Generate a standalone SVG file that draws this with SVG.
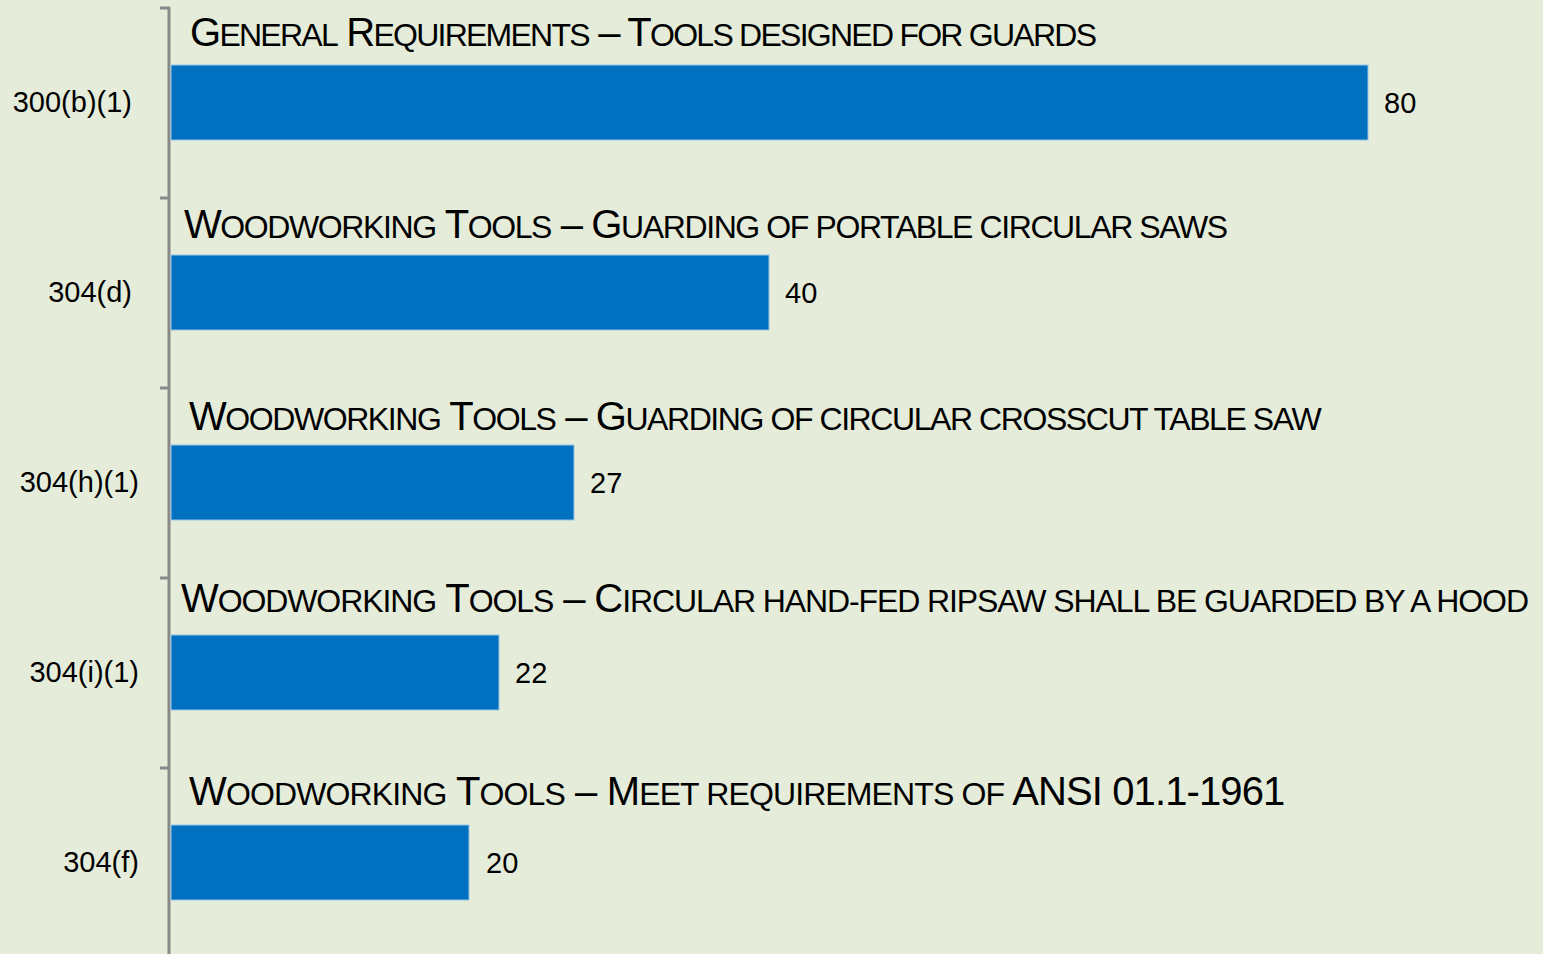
<svg xmlns="http://www.w3.org/2000/svg" width="1543" height="954" viewBox="0 0 1543 954">
<style>
.bg{fill:#E5ECDA}
.bar{fill:#0070C0;stroke:#9CC3E5;stroke-width:1}
.t{font-family:"Liberation Sans",Arial,sans-serif;fill:#000}
.ttl{font-size:40px}
.s{font-size:32px}
.lbl{font-size:29px}
.cat{text-anchor:end}
.ax{stroke:#898989;stroke-width:3;fill:none}
</style>
<rect class="bg" x="0" y="0" width="1543" height="954"/>
<g id="axis">
<path class="ax" d="M169,7 V954 M160,8 H170 M160,198 H170 M160,388 H170 M160,578 H170 M160,768 H170"/>
</g>
<g id="cat1">
<rect class="bar" x="171" y="65" width="1197" height="75"/>
<text class="t ttl" x="190" y="46" letter-spacing="-1.75">G<tspan class="s">ENERAL</tspan> R<tspan class="s">EQUIREMENTS</tspan> – T<tspan class="s">OOLS DESIGNED FOR GUARDS</tspan></text>
<text class="t lbl cat" x="132" y="112">300(b)(1)</text>
<text class="t lbl" x="1384" y="113">80</text>
</g>
<g id="cat2">
<rect class="bar" x="171" y="255" width="598" height="75"/>
<text class="t ttl" x="184" y="238" letter-spacing="-1.4">W<tspan class="s">OODWORKING</tspan> T<tspan class="s">OOLS</tspan> – G<tspan class="s">UARDING OF PORTABLE CIRCULAR SAWS</tspan></text>
<text class="t lbl cat" x="132" y="302">304(d)</text>
<text class="t lbl" x="785" y="303">40</text>
</g>
<g id="cat3">
<rect class="bar" x="171" y="445" width="403" height="75"/>
<text class="t ttl" x="189" y="430" letter-spacing="-1.43">W<tspan class="s">OODWORKING</tspan> T<tspan class="s">OOLS</tspan> – G<tspan class="s">UARDING OF CIRCULAR CROSSCUT TABLE SAW</tspan></text>
<text class="t lbl cat" x="139" y="492">304(h)(1)</text>
<text class="t lbl" x="590" y="493">27</text>
</g>
<g id="cat4">
<rect class="bar" x="171" y="635" width="328" height="75"/>
<text class="t ttl" x="181" y="612" letter-spacing="-1.1">W<tspan class="s">OODWORKING</tspan> T<tspan class="s">OOLS</tspan> – C<tspan class="s">IRCULAR HAND-FED RIPSAW SHALL BE GUARDED BY A HOOD</tspan></text>
<text class="t lbl cat" x="139" y="682">304(i)(1)</text>
<text class="t lbl" x="515" y="683">22</text>
</g>
<g id="cat5">
<rect class="bar" x="171" y="825" width="298" height="75"/>
<text class="t ttl" x="189" y="805" letter-spacing="-0.88">W<tspan class="s">OODWORKING</tspan> T<tspan class="s">OOLS</tspan> – M<tspan class="s">EET REQUIREMENTS OF</tspan> ANSI 01.1-1961</text>
<text class="t lbl cat" x="139" y="872">304(f)</text>
<text class="t lbl" x="486" y="873">20</text>
</g>
</svg>
